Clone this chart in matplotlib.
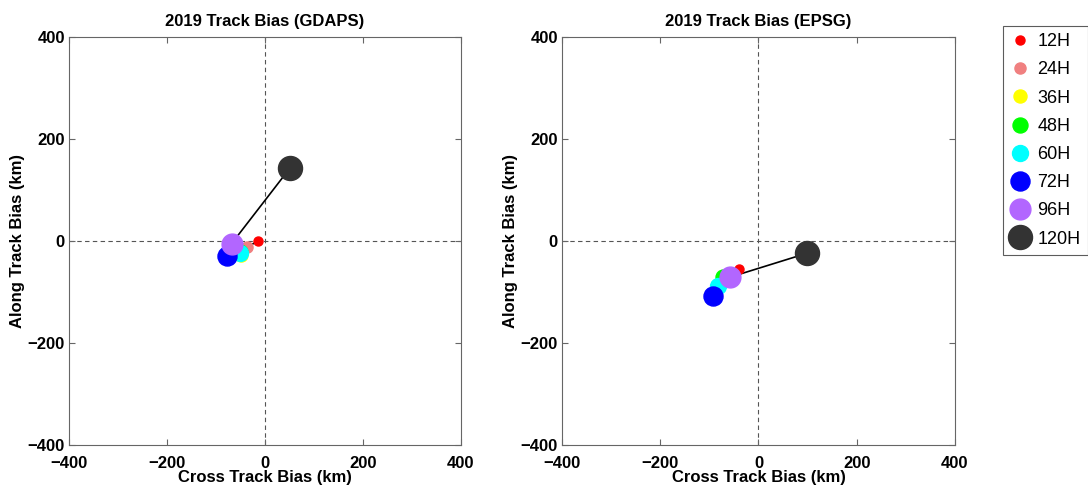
import numpy as np
import matplotlib.pyplot as plt

plt.rcParams['font.family'] = ['Liberation Sans', 'DejaVu Sans']

# forecast lead times and marker styling
leads = ['12H', '24H', '36H', '48H', '60H', '72H', '96H', '120H']
colors = ['#ff0000', '#f08080', '#ffff00', '#00ff00', '#00ffff', '#0000ff', '#b266ff', '#333333']
msizes = [6.5, 8, 9.4, 10.8, 11.5, 13.7, 15, 17.3]

# cross / along track bias (km)
gdaps_cross = [-15, -36, -48, -51, -52, -78, -68, 51]
gdaps_along = [-1, -11, -27, -21, -24, -30, -5, 143]
epsg_cross = [-39, -60, -66, -72, -82, -93, -58, 99]
epsg_along = [-55, -64, -72, -70, -88, -108, -71, -24]

panels = [
    ('2019 Track Bias (GDAPS)', gdaps_cross, gdaps_along),
    ('2019 Track Bias (EPSG)', epsg_cross, epsg_along),
]
positions = [[0.0634, 0.0937, 0.3603, 0.831], [0.5165, 0.0937, 0.3612, 0.831]]

fig = plt.figure(figsize=(10.88, 4.91), dpi=100)
handles = []
for (title, cx, ay), pos in zip(panels, positions):
    ax = fig.add_axes(pos)
    ax.axhline(0, color='#555555', ls='--', lw=0.8, dashes=(4, 3), zorder=1)
    ax.axvline(0, color='#555555', ls='--', lw=0.8, dashes=(4, 3), zorder=1)
    ax.plot(cx, ay, color='black', lw=1.2, zorder=2)
    handles = []
    for i in range(len(leads)):
        h, = ax.plot(cx[i], ay[i], 'o', color=colors[i], ms=msizes[i],
                     mec=colors[i], ls='none', zorder=3 + i, label=leads[i])
        handles.append(h)
    ax.set_xlim(-400, 400)
    ax.set_ylim(-400, 400)
    ax.set_xticks([-400, -200, 0, 200, 400])
    ax.set_yticks([-400, -200, 0, 200, 400])
    ax.tick_params(direction='in', length=4, color='#666666', labelsize=12,
                   top=True, right=True, pad=3)
    ax.tick_params(axis='x', pad=8)
    for lab in ax.get_xticklabels() + ax.get_yticklabels():
        lab.set_fontweight('bold')
    for s in ax.spines.values():
        s.set_color('#666666')
        s.set_linewidth(0.8)
    ax.set_title(title, fontsize=12, fontweight='bold', pad=8)
    ax.set_xlabel('Cross Track Bias (km)', fontsize=12, fontweight='bold', labelpad=-1)
    ax.set_ylabel('Along Track Bias (km)', fontsize=12, fontweight='bold', labelpad=2)

leg = fig.legend(handles, leads, loc='upper left', bbox_to_anchor=(0.9219, 0.947),
                 fontsize=13, frameon=True, fancybox=False, edgecolor='#333333',
                 handlelength=1.1, handletextpad=0.4, labelspacing=0.62,
                 borderpad=0.4, borderaxespad=0, markerfirst=True)
leg.get_frame().set_linewidth(0.8)

fig.savefig('out.png', dpi=100)
